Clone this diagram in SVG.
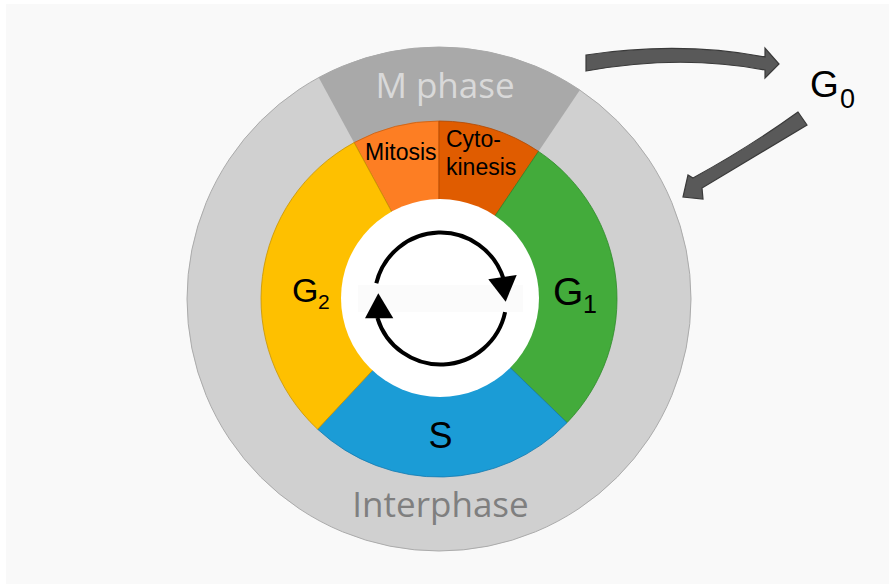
<svg xmlns="http://www.w3.org/2000/svg" width="889" height="584" viewBox="0 0 889 584">
<style>
.lbl{font-family:"Liberation Sans",Arial,sans-serif;fill:#000}
.big{font-family:"Open Sans","Noto Sans",sans-serif}
.blk{fill:#595959;stroke:#3a3a3a;stroke-width:1.2;stroke-linejoin:miter}
.cyc{fill:none;stroke:#000;stroke-width:4}
.head{fill:#000}
</style>
<rect x="0" y="0" width="889" height="584" fill="#ffffff"/>
<rect x="6" y="4" width="883" height="580" fill="#f9f9f9"/>
<g id="interphase">
<circle cx="439" cy="299" r="252" fill="#d0d0d0" stroke="#ababab" stroke-width="1"/>
<text class="big" x="440.5" y="517" font-size="35" fill="#7f7f7f" text-anchor="middle">Interphase</text>
</g>
<g id="mphase">
<path d="M439,299 L318.7,77.5 A252,252 0 0 1 579.9,90.1 Z" fill="#a9a9a9"/>
<text class="big" x="445" y="98" font-size="35" fill="#d9d9d9" text-anchor="middle">M phase</text>
</g>
<g id="mitosis">
<path d="M439,299 L354.1,142.6 A178,178 0 0 1 439,121 Z" fill="#fd7e23" stroke="#c85e10" stroke-width="0.8"/>
<text class="lbl" x="365" y="160" font-size="23">Mitosis</text>
</g>
<g id="cytokinesis">
<path d="M439,299 L439,121 A178,178 0 0 1 538.5,151.4 Z" fill="#e05c00" stroke="#b04800" stroke-width="0.8"/>
<text class="lbl" x="446" y="147" font-size="23">Cyto-</text>
<text class="lbl" x="446" y="175" font-size="23">kinesis</text>
</g>
<g id="g1">
<path d="M439,299 L538.5,151.4 A178,178 0 0 1 567,422.7 Z" fill="#43ab3b" stroke="#2f8a2a" stroke-width="0.8"/>
<text class="lbl" x="553" y="305" font-size="39">G<tspan x="583" y="313" font-size="25">1</tspan></text>
</g>
<g id="s">
<path d="M439,299 L567,422.7 A178,178 0 0 1 317.6,429.2 Z" fill="#1b9cd6" stroke="#147ab0" stroke-width="0.8"/>
<text class="lbl" x="440.5" y="448" font-size="36" text-anchor="middle">S</text>
</g>
<g id="g2">
<path d="M439,299 L317.6,429.2 A178,178 0 0 1 354.1,142.6 Z" fill="#fec000" stroke="#c89400" stroke-width="0.8"/>
<text class="lbl" x="292" y="302" font-size="34">G<tspan x="318" y="309" font-size="21">2</tspan></text>
</g>
<g id="center">
<circle cx="440" cy="298" r="99" fill="#ffffff"/>
<rect x="358" y="285" width="165" height="27" fill="#fbfbfb"/>
</g>
<g id="cycle">
<path class="cyc" d="M376.3,283.3 A66,66 0 0 1 503.6,279.2"/>
<polygon class="head" points="488.3,279.3 516.7,275 505.7,301.7"/>
<path class="cyc" d="M505.1,312.2 A66,66 0 0 1 377.4,317.8"/>
<polygon class="head" points="365,318.3 393.3,318.3 378.3,293.3"/>
</g>
<g id="g0">
<text class="lbl" x="810" y="97" font-size="37">G<tspan x="840" y="108" font-size="27">0</tspan></text>
</g>
<g id="connectors">
<path class="blk" d="M586,55 Q680,41 765,57 L765,48 L779,64 L765,78 L765,70 Q680,54 586,71 Z"/>
<path class="blk" d="M798,112 Q748,148 693,178 L688,175 L683,197 L703,199 L702,188 Q752,158 807,125 Z"/>
</g>
</svg>
